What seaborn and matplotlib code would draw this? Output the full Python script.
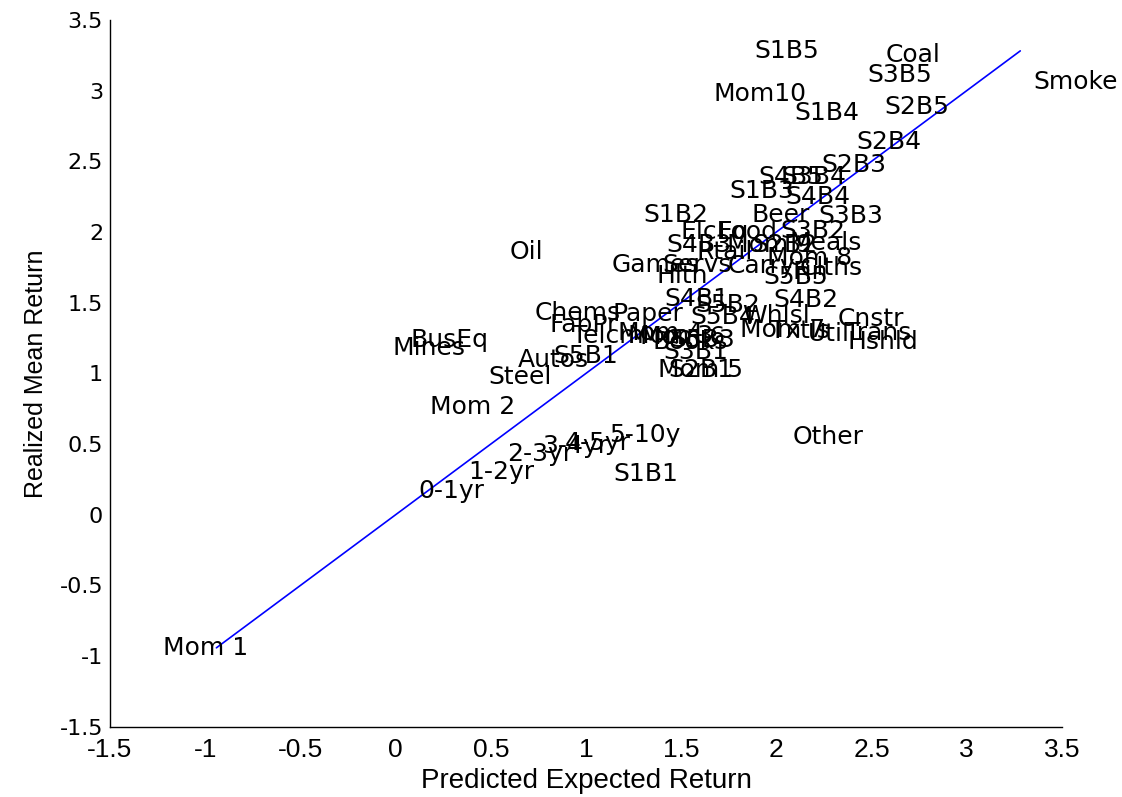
import numpy as np
import pandas as pd
import seaborn as sns
import matplotlib
matplotlib.use('Agg')
import matplotlib.pyplot as plt
from matplotlib.ticker import FormatStrFormatter

# portfolio labels with predicted vs realized mean returns
labels = ['S1B5', 'Coal', 'S3B5', 'Smoke', 'Mom10', 'S2B5', 'S1B4', 'S2B4', 'S2B3',
          'S4B5', 'S3B4', 'S1B3', 'S4B4', 'S1B2', 'Beer', 'S3B3', 'ElcEq', 'Food',
          'S3B2', 'S4B3', 'Mom 9', 'S2B2', 'Meals', 'Rtail', 'Oil', 'Games', 'Servs',
          'Carry', 'Mom 8', 'Clths', 'Hlth', 'S5B5', 'Fin', 'S4B1', 'S5B2', 'S4B2',
          'Chems', 'Paper', 'FabPr', 'S5B4', 'Whlsl', 'Txtls', 'Mom 7', 'Telcm',
          'Mom 4', 'Mom 3', 'Mom 6', 'Books', 'S5B3', 'S3B1', 'Mom 5', 'S2B1',
          'Autos', 'S5B1', 'Util', 'Cnstr', 'Trans', 'Hshld', 'Mines', 'BusEq',
          'Steel', 'Mom 2', '0-1yr', '1-2yr', '2-3yr', '3-4yr', '4-5yr', '5-10y',
          'S1B1', 'Other', 'Mom 1']

predicted = [1.882, 2.576, 2.476, 3.348, 1.672, 2.565, 2.092, 2.418, 2.234,
             1.903, 2.024, 1.751, 2.045, 1.299, 1.867, 2.218, 1.494, 1.693,
             2.019, 1.420, 1.741, 1.872, 2.071, 1.583, 0.601, 1.137, 1.399,
             1.746, 1.951, 2.124, 1.373, 1.930, 2.087, 1.410, 1.572, 1.982,
             0.732, 1.137, 0.811, 1.546, 1.819, 1.966, 1.809, 0.926,
             1.168, 1.221, 1.284, 1.347, 1.441, 1.404, 1.378, 1.431,
             0.643, 0.827, 2.166, 2.324, 2.360, 2.371, -0.014, 0.076,
             0.485, 0.181, 0.118, 0.380, 0.585, 0.769, 0.890, 1.121,
             1.142, 2.087, -1.222]

realized = [3.281, 3.253, 3.112, 3.062, 2.977, 2.885, 2.843, 2.638, 2.475,
            2.390, 2.390, 2.291, 2.249, 2.122, 2.122, 2.115, 2.001, 2.001,
            2.008, 1.909, 1.909, 1.909, 1.924, 1.860, 1.860, 1.768, 1.768,
            1.761, 1.818, 1.747, 1.690, 1.683, 1.719, 1.528, 1.485, 1.520,
            1.429, 1.421, 1.344, 1.400, 1.407, 1.301, 1.308, 1.266,
            1.287, 1.266, 1.259, 1.223, 1.238, 1.153, 1.025, 1.025,
            1.096, 1.124, 1.280, 1.386, 1.287, 1.223, 1.181, 1.238,
            0.976, 0.764, 0.170, 0.304, 0.431, 0.488, 0.509, 0.566,
            0.290, 0.552, -0.941]

ticks = [-1.5, -1, -0.5, 0, 0.5, 1, 1.5, 2, 2.5, 3, 3.5]

df = pd.DataFrame({'label': labels, 'pred': predicted, 'real': realized})

sns.set_style('white')
plt.rcParams['axes.unicode_minus'] = False
plt.rcParams['font.family'] = ['DejaVu Sans']

fig = plt.figure(figsize=(11.22, 7.97), dpi=100)
ax = fig.add_axes([0.098, 0.088, 0.8485, 0.887])

# 45 degree line spanning the realized returns
lo, hi = df['real'].min(), df['real'].max()
sns.lineplot(x=[lo, hi], y=[lo, hi], color='blue', linewidth=1.2, ax=ax)

for _, r in df.iterrows():
    ax.text(r['pred'], r['real'], r['label'], fontsize=18, ha='left', va='center',
            color='black')

ax.set_xlim(-1.5, 3.5)
ax.set_ylim(-1.5, 3.5)
ax.set_xticks(ticks)
ax.set_yticks(ticks)
ax.xaxis.set_major_formatter(FormatStrFormatter('%g'))
ax.yaxis.set_major_formatter(FormatStrFormatter('%g'))

for side in ['top', 'right']:
    ax.spines[side].set_visible(False)
for side in ['left', 'bottom']:
    ax.spines[side].set_color('black')
    ax.spines[side].set_linewidth(1.0)

narrow = ['Liberation Sans Narrow', 'Liberation Sans', 'DejaVu Sans']
ax.tick_params(axis='both', direction='in', length=7, width=1, color='black',
               labelcolor='black')
ax.tick_params(axis='y', labelsize=16, pad=5)
ax.tick_params(axis='x', pad=8)
for t in ax.get_xticklabels():
    t.set_family(narrow)
    t.set_fontsize(19)

ax.set_xlabel('Predicted Expected Return', family=narrow, fontsize=20, labelpad=4,
              color='black')
ax.set_ylabel('Realized Mean Return', family=narrow, fontsize=18, labelpad=8,
              color='black')

fig.savefig('out.png', dpi=100)
